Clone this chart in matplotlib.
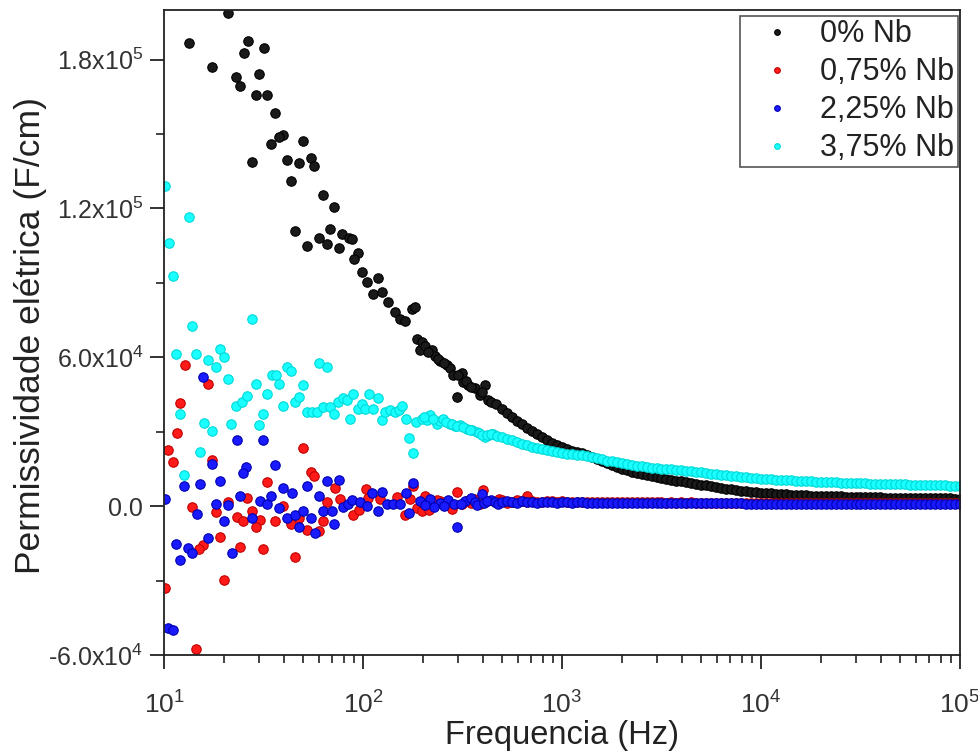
import matplotlib
matplotlib.use("Agg")
import matplotlib.pyplot as plt
import numpy as np
from matplotlib.ticker import FixedLocator, LogLocator, NullFormatter

plt.rcParams['font.family'] = ['Liberation Sans', 'DejaVu Sans']
plt.rcParams['mathtext.fontset'] = 'custom'
plt.rcParams['mathtext.rm'] = 'Liberation Sans'
plt.rcParams['mathtext.it'] = 'Liberation Sans:italic'
plt.rcParams['mathtext.bf'] = 'Liberation Sans:bold'

# values in units of 1e3 F/cm, frequencies in Hz
# low-frequency scattered points
f_nb0 = [21.0, 13.35, 26.35, 31.8, 25.15, 17.4, 30.1, 23.0, 24.1, 28.9, 33.0, 36.1,
         39.8, 37.85, 49.8, 34.6, 41.4, 27.6, 47.7, 54.6, 56.9, 43.5, 62.7, 71.7,
         45.5, 68.5, 59.9, 52.1, 65.7, 78.7, 84.8, 87.7, 75.5, 94.4, 90.4, 98.5,
         119.4, 104.4, 112.7, 124.2, 134.1, 144.8, 153.5, 162.6, 175.7, 182.5, 186.1,
         193.4, 197.2, 205, 221.4, 230, 243.7, 263.4, 273.6, 284.4, 313.3, 295.7,
         319.2, 338.2, 365.4, 410.4, 387.1, 426.3,
         212, 238, 255, 300, 330, 350, 395, 440, 465]
v_nb0 = [198.6, 186.7, 187.6, 184.8, 182.5, 177.1, 174.0, 172.8, 169.3, 165.9, 165.9, 158.3,
         149.6, 148.7, 147.2, 145.8, 139.7, 138.8, 138.5, 140.4, 137.0, 131.0, 125.3, 120.4,
         110.8, 111.9, 107.9, 105.0, 105.8, 109.8, 108.2, 107.8, 103.9, 102.1, 99.8, 94.4,
         91.9, 90.3, 85.5, 86.2, 82.2, 78.1, 75.4, 74.7, 79.4, 80.1, 67.2,
         63.1, 66.0, 64.5, 63.1, 60.4, 58.4, 57.0, 55.7, 52.9, 53.6, 44.1,
         50.2, 48.9, 47.5, 48.9, 44.8, 42.8,
         62.0, 59.5, 57.5, 53.0, 50.5, 48.0, 46.0, 42.0, 41.0]

f_nb075 = [12.75, 16.7, 12.1, 11.6, 10.5, 11.1, 17.4, 49.8, 54.6, 56.9, 33.0, 72.3,
           26.2, 21.0, 13.9, 18.25, 23.2, 25.0, 27.6, 30.4, 29.0, 36.1, 39.8, 43.5,
           47.9, 52.1, 60.3, 62.7, 65.7, 76.6, 89.4, 95.5, 103.2, 106.3, 121.7, 147.7,
           162.6, 178.9, 186.1, 19.1, 15.75, 15.05, 24.1, 31.55, 45.5, 20.0, 10.1, 14.5,
           172.3, 197.2, 205, 226, 243.7, 295.7, 313, 347, 400, 387, 665,
           215, 235, 255, 280, 330, 360, 420, 460, 480]
v_nb075 = [57.0, 49.2, 41.4, 29.4, 22.7, 17.9, 18.6, 23.3, 13.6, 12.2, 9.9, 7.2,
           3.1, 1.8, -0.4, -2.4, -4.4, -5.8, -1.8, -5.4, -8.6, -5.8, 0.0, -7.0,
           -4.8, -9.5, -10.2, -6.1, 1.8, 2.7, -3.4, -1.6, 7.0, 3.4, 2.7, 3.7,
           -3.4, 8.1, -0.7, -12.6, -15.6, -17.4, -16.6, -17.4, -20.4, -29.9, -33.0, -57.7,
           2.7, -2.0, 4.1, 0.0, 2.0, 5.8, 0.7, 1.2, 6.4, 0.7, 4.1,
           -1.5, 2.5, 1.0, -1.0, 2.2, 3.0, 2.0, 1.5, 2.8]

f_nb225 = [15.75, 23.2, 31.55, 17.4, 25.8, 25.0, 36.1, 19.1, 15.2, 12.6, 10.1, 24.1,
           18.25, 21.0, 14.6, 20.0, 27.6, 30.4, 32.8, 34.5, 39.8, 43.8, 52.1, 59.9,
           65.7, 75.8, 37.85, 41.4, 45.5, 50.1, 54.8, 62.7, 69.6, 47.9, 57.4, 71.5,
           79.1, 84.1, 88.0, 96.7, 104.4, 119.4, 110.6, 124.2, 131.6, 141, 153.5, 164.5,
           171, 178.9, 16.7, 13.25, 13.9, 11.5, 12.1, 21.9, 10.5, 11.1, 295.7, 394.8,
           193, 217, 244, 266, 325, 347, 438,
           205, 228, 256, 285, 310, 365, 375, 405, 420, 460, 475]
v_nb225 = [51.9, 26.8, 26.8, 17.0, 15.9, 13.2, 16.6, 10.2, 9.1, 8.0, 2.8, 4.1,
           0.9, 0.4, -3.1, -5.8, -4.8, 2.0, 0.7, 4.1, 7.2, 5.4, 8.3, 4.1,
           10.2, 10.7, -0.9, -4.8, -3.4, -2.0, -4.8, -1.8, -1.8, -8.6, -10.9, -7.2,
           -0.4, 0.8, 2.3, 1.7, 0.0, -2.0, 5.4, 5.8, 0.7, 0.8, 0.8, 5.4,
           -2.7, 9.5, -12.9, -17.0, -19.0, -15.4, -21.7, -19.0, -49.3, -49.8, -8.6, 5.0,
           2.0, 2.8, 1.2, 2.4, 2.0, 3.2, 2.4,
           0.5, -0.5, 0.2, 1.0, 0.8, 1.5, 0.5, 1.3, 2.2, 1.6, 0.8]

f_nb375 = [10.1, 10.6, 13.35, 11.1, 13.9, 27.6, 11.5, 14.5, 16.7, 19.1, 20.1, 18.25,
           21.0, 12.1, 15.9, 17.5, 21.7, 15.2, 12.6, 23.0, 24.6, 26.2, 28.9, 33.0,
           31.55, 30.1, 34.8, 36.55, 38.0, 41.4, 43.5, 49.8, 39.8, 45.5, 47.9, 59.9,
           65.7, 52.1, 55.2, 58.5, 63.2, 68.3, 71.5, 75.1, 79.6, 82.8, 89.4, 86.1,
           94.7, 98.5, 102.3, 107.6, 112.7, 119.4, 124.2, 129, 136.7, 144.8, 152.2, 156.5,
           164.5, 184.6, 171, 178.9, 197.2, 209, 217, 234.6, 244, 253.2, 273.6, 289,
           307.2, 332, 355, 372.8, 382, 410.4, 430, 451.6,
           203, 225, 262, 280, 298, 318, 343, 395, 420, 440, 470]
v_nb375 = [129.0, 106.2, 116.4, 92.6, 72.6, 75.3, 61.4, 61.5, 59.1, 63.5, 60.2, 56.1,
           51.3, 37.3, 33.5, 30.1, 33.3, 22.0, 12.6, 40.3, 42.1, 44.4, 49.3, 45.1,
           37.1, 32.9, 52.7, 52.9, 49.3, 56.1, 54.3, 48.9, 40.3, 42.1, 43.9, 57.7,
           56.1, 38.0, 38.0, 38.0, 39.8, 39.8, 37.3, 42.1, 43.5, 42.8, 45.2, 35.3,
           39.0, 41.1, 39.0, 45.2, 39.0, 43.7, 34.9, 38.0, 38.7, 38.0, 38.7, 40.4,
           35.3, 33.9, 27.4, 21.5, 35.3, 34.6, 36.7, 33.3, 34.2, 35.3, 33.3, 32.2,
           32.6, 31.2, 30.5, 29.9, 29.3, 27.8, 28.5, 29.2,
           35.8, 35.0, 33.8, 33.0, 32.4, 31.8, 30.8, 28.7, 28.6, 29.0, 28.2]

# dense high-frequency part, shared frequency list
f_tail = [501, 531, 562, 596, 631, 668, 708, 750, 794, 841, 891, 944,
          1000, 1059, 1122, 1189, 1259, 1334, 1413, 1496, 1585, 1679, 1778, 1884,
          1995, 2113, 2239, 2371, 2512, 2661, 2818, 2985, 3162, 3350, 3548, 3758,
          3981, 4217, 4467, 4732, 5012, 5309, 5623, 5957, 6310, 6683, 7079, 7499,
          7943, 8414, 8913, 9441, 10000, 10590, 11220, 11890, 12590, 13340, 14130, 14960,
          15850, 16790, 17780, 18840, 19950, 21130, 22390, 23710, 25120, 26610, 28180, 29850,
          31620, 33500, 35480, 37580, 39810, 42170, 44670, 47320, 50120, 53090, 56230, 59570,
          63100, 66830, 70790, 74990, 79430, 84140, 89130, 94410, 100000]
tail_nb0 = [39.3, 37.6, 36.0, 34.5, 33.0, 31.6, 30.2, 28.9, 27.7, 26.5,
            25.4, 24.7, 24.0, 23.2, 22.4, 21.9, 21.3, 20.5, 19.7, 18.9,
            18.0, 17.2, 16.4, 15.7, 15.0, 14.4, 13.8, 13.3, 12.9, 12.5,
            12.1, 11.7, 11.3, 10.9, 10.6, 10.3, 10.0, 9.7, 9.4, 9.05,
            8.7, 8.35, 8.0, 7.7, 7.4, 7.1, 6.8, 6.5, 6.2, 6.0,
            5.8, 5.6, 5.4, 5.25, 5.1, 4.95, 4.8, 4.7, 4.6, 4.5,
            4.4, 4.32, 4.25, 4.17, 4.1, 4.05, 4.0, 3.95, 3.9, 3.85,
            3.8, 3.75, 3.7, 3.65, 3.6, 3.55, 3.5, 3.47, 3.45, 3.42,
            3.4, 3.37, 3.35, 3.32, 3.3, 3.27, 3.25, 3.22, 3.2, 3.15,
            3.1, 3.05, 3.0]
tail_nb075 = [2.6, 1.2, 1.8, 2.5, 2.2, 1.5, 2.0, 1.6, 1.7, 2.2,
              2.1, 1.6, 1.9, 1.7, 1.8, 1.6, 1.7, 1.6, 1.8, 1.6,
              1.7, 1.6, 1.7, 1.6, 1.6, 1.5, 1.6, 1.5, 1.6, 1.5,
              1.6, 1.5, 1.5, 1.4, 1.5, 1.4, 1.5, 1.4, 1.5, 1.4,
              1.4, 1.4, 1.4, 1.4, 1.4, 1.3, 1.4, 1.3, 1.4, 1.3,
              1.3, 1.3, 1.3, 1.3, 1.3, 1.3, 1.3, 1.3, 1.3, 1.3,
              1.3, 1.2, 1.2, 1.2, 1.2, 1.2, 1.2, 1.2, 1.2, 1.2,
              1.2, 1.2, 1.2, 1.2, 1.2, 1.2, 1.2, 1.2, 1.2, 1.2,
              1.2, 1.2, 1.2, 1.2, 1.2, 1.2, 1.2, 1.2, 1.2, 1.2,
              1.2, 1.2, 1.2]
tail_nb225 = [1.8, 2.2, 1.5, 1.2, 2.0, 1.7, 1.6, 1.3, 1.5, 1.8,
              1.7, 1.4, 1.5, 1.6, 1.4, 1.5, 1.5, 1.4, 1.4, 1.4,
              1.4, 1.3, 1.3, 1.3, 1.4, 1.3, 1.3, 1.3, 1.3, 1.3,
              1.3, 1.2, 1.2, 1.2, 1.2, 1.2, 1.2, 1.2, 1.2, 1.1,
              1.1, 1.1, 1.1, 1.1, 1.1, 1.1, 1.1, 1.1, 1.1, 1.0,
              1.0, 1.0, 1.0, 1.0, 1.0, 1.0, 1.0, 1.0, 1.0, 1.0,
              1.0, 1.0, 1.0, 1.0, 1.0, 0.95, 0.95, 0.95, 0.95, 0.95,
              0.95, 0.95, 0.95, 0.9, 0.9, 0.9, 0.9, 0.9, 0.9, 0.9,
              0.9, 0.9, 0.9, 0.9, 0.9, 0.9, 0.9, 0.9, 0.9, 0.9,
              0.9, 0.9, 0.9]
tail_nb375 = [27.9, 27.2, 26.5, 25.8, 25.2, 24.5, 23.8, 23.4, 23.0, 22.6,
              22.2, 21.8, 21.5, 21.2, 20.9, 20.7, 20.5, 20.1, 19.7, 19.3,
              18.9, 18.4, 18.0, 17.6, 17.2, 16.8, 16.4, 16.2, 16.0, 15.7,
              15.5, 15.3, 15.1, 14.95, 14.8, 14.65, 14.5, 14.3, 14.1, 13.85,
              13.6, 13.3, 13.0, 12.8, 12.6, 12.4, 12.2, 12.0, 11.8, 11.6,
              11.4, 11.25, 11.1, 10.97, 10.85, 10.72, 10.6, 10.47, 10.35, 10.25,
              10.15, 10.05, 9.95, 9.87, 9.8, 9.72, 9.65, 9.57, 9.5, 9.42,
              9.35, 9.27, 9.2, 9.15, 9.1, 9.05, 9.0, 8.95, 8.9, 8.85,
              8.8, 8.75, 8.7, 8.65, 8.6, 8.55, 8.5, 8.45, 8.4, 8.35,
              8.3, 8.25, 8.2]

labels = ['0% Nb', '0,75% Nb', '2,25% Nb', '3,75% Nb']
colors = ['#1a1a1a', '#ff1a1a', '#1a1aff', '#1affff']
edges = ['#000000', '#c00000', '#0000b0', '#00d8d8']

series = [(f_nb0, v_nb0, tail_nb0), (f_nb075, v_nb075, tail_nb075),
          (f_nb225, v_nb225, tail_nb225), (f_nb375, v_nb375, tail_nb375)]

fig = plt.figure(figsize=(9.79, 7.56), dpi=100)
ax = fig.add_axes([0.1675, 0.1336, 0.8131, 0.8532])

for (f, v, tail), lab, c, ec in zip(series, labels, colors, edges):
    x = np.concatenate([f, f_tail])
    y = np.concatenate([v, tail]) * 1e3
    ax.plot(x, y, 'o', ls='none', ms=6.8, mfc=c, mec=ec, mew=0.8, label=lab)

ax.set_xscale('log')
ax.set_xlim(10, 1e5)
ax.set_ylim(-6e4, 2e5)

ax.xaxis.set_minor_locator(LogLocator(base=10, subs=np.arange(2, 10), numticks=50))
ax.xaxis.set_minor_formatter(NullFormatter())
ax.set_xticks([10, 100, 1000, 10000, 100000])
ax.set_xticklabels([r'10$^{1}$', r'10$^{2}$', r'10$^{3}$', r'10$^{4}$', r'10$^{5}$'])

ax.set_yticks([-6e4, 0, 6e4, 1.2e5, 1.8e5])
ax.set_yticklabels([r'-6.0x10$^{4}$', '0.0', r'6.0x10$^{4}$', r'1.2x10$^{5}$', r'1.8x10$^{5}$'])
ax.yaxis.set_minor_locator(FixedLocator([-3e4, 3e4, 9e4, 1.5e5]))

ax.tick_params(axis='both', which='major', direction='out', length=10, width=1.3,
               colors='#222222', labelcolor='#333333')
ax.tick_params(axis='both', which='minor', direction='out', length=6, width=1.2,
               colors='#222222')
ax.tick_params(axis='x', which='major', labelsize=19, pad=16)
ax.tick_params(axis='y', which='major', labelsize=18, pad=5)
for s in ax.spines.values():
    s.set_linewidth(1.3)
    s.set_color('#222222')

ax.set_xlabel('Frequencia (Hz)', fontsize=23.5, color='#222222')
ax.xaxis.set_label_coords(0.5, -0.1255)
ax.xaxis.label.set_verticalalignment('center')
ax.set_ylabel('Permissividade elétrica (F/cm)', fontsize=25.5, color='#222222')
ax.yaxis.set_label_coords(-0.168, 0.495)
ax.yaxis.label.set_verticalalignment('center')
ax.yaxis.label.set_horizontalalignment('center')

leg = ax.legend(loc='upper right', bbox_to_anchor=(0.997, 0.991), borderaxespad=0,
                fontsize=22, markerscale=0.6, handlelength=2.2, handletextpad=0.3,
                labelspacing=0.26, borderpad=0.12, fancybox=False, framealpha=1)
leg.get_frame().set_edgecolor('#555555')
leg.get_frame().set_linewidth(1.2)
for t in leg.get_texts():
    t.set_color('#222222')

fig.savefig('out.png', dpi=100)
